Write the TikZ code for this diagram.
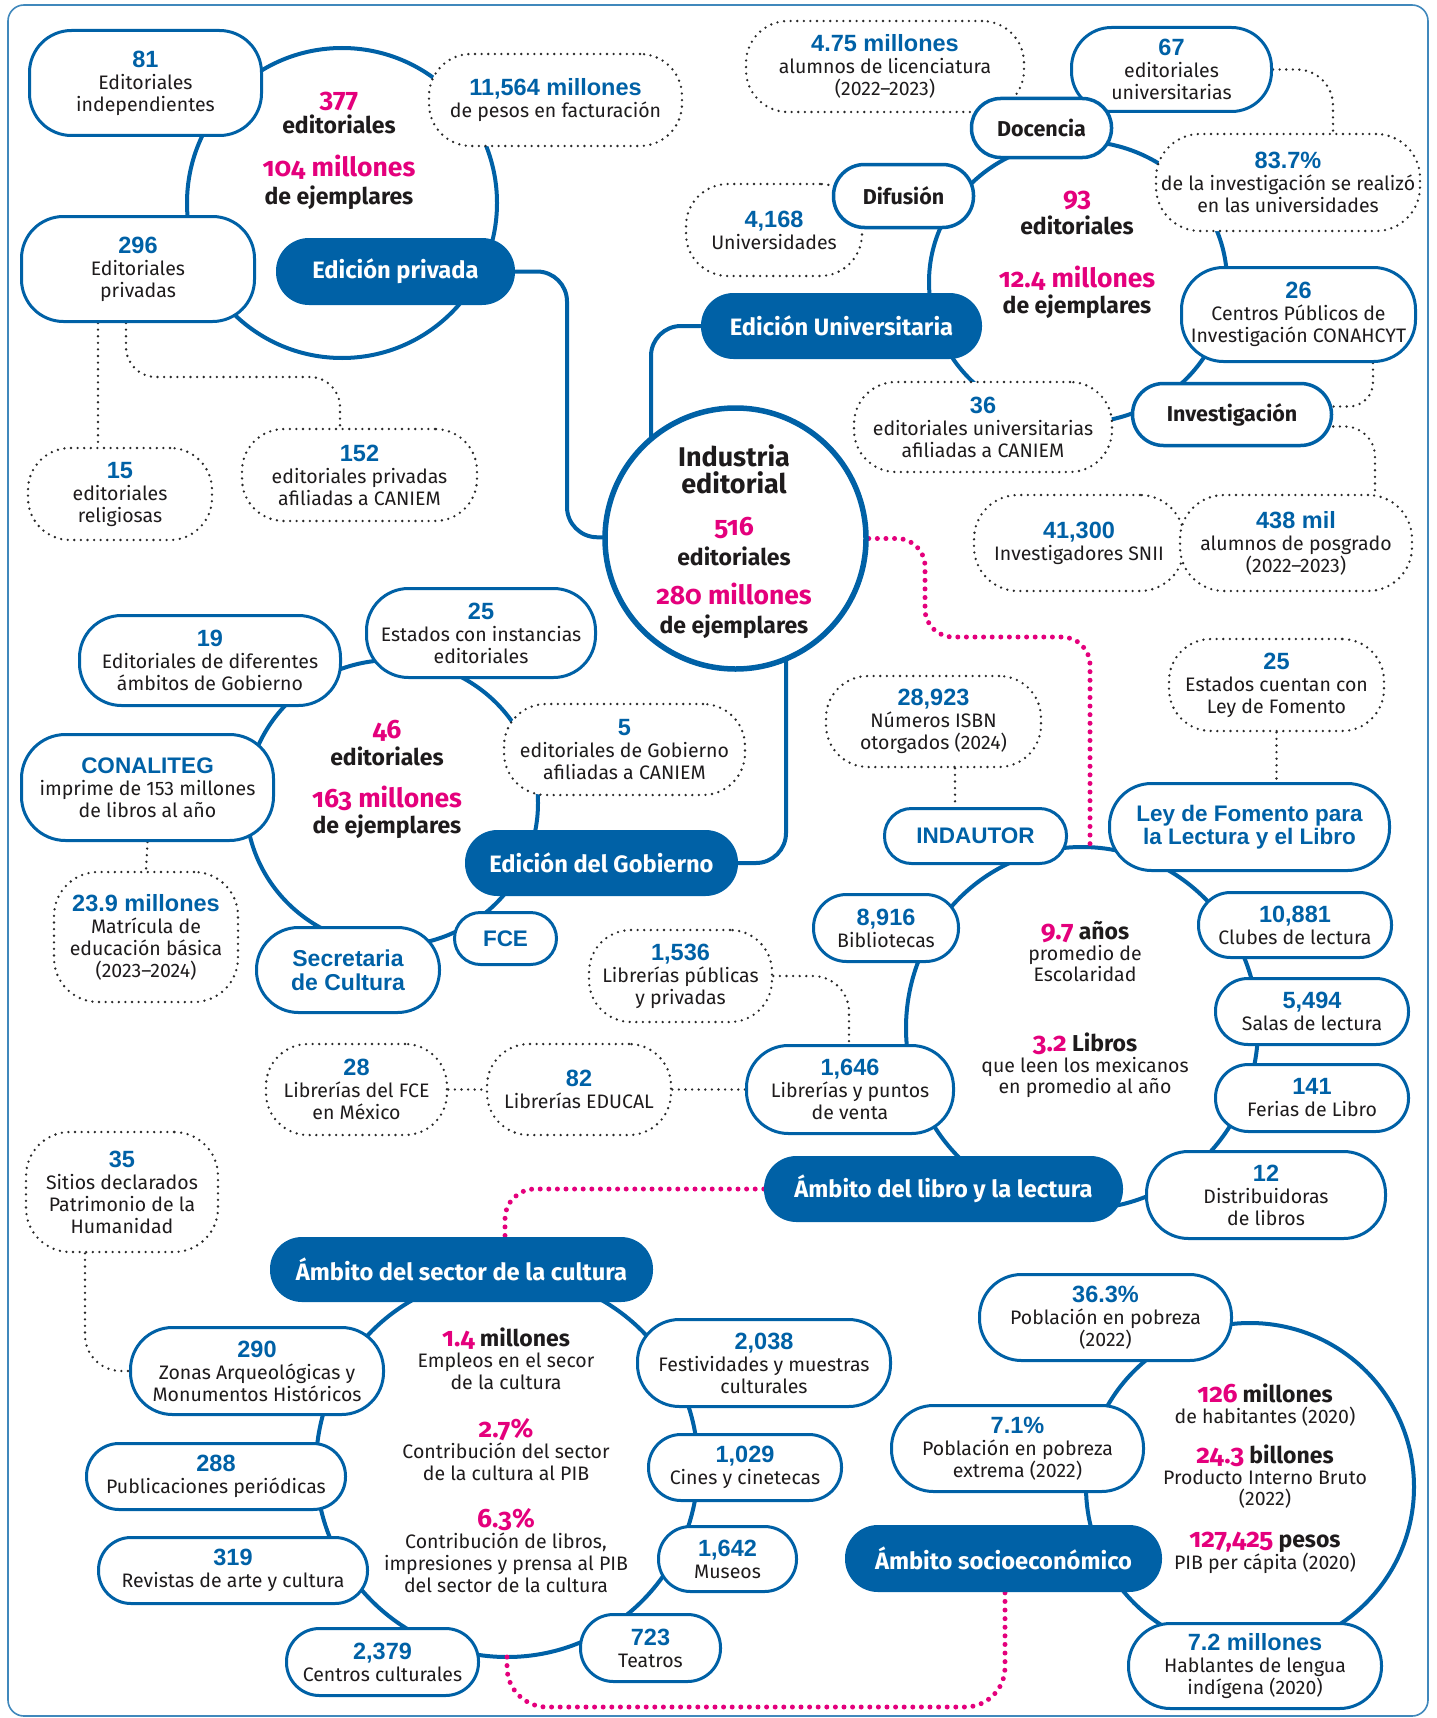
\documentclass[tikz,border=0pt]{standalone}
\usepackage{fontspec}
\setmainfont{Fira Sans}
\newfontfamily\myold{Fira Sans}[Numbers=OldStyle]
\newfontfamily\mylib{Liberation Sans}
\usetikzlibrary{calc}
\definecolor{mblue}{RGB}{0,97,166}
\definecolor{mpink}{RGB}{228,0,124}
\definecolor{tdark}{RGB}{30,27,28}
\definecolor{dgray}{RGB}{40,40,40}
\pgfdeclarelayer{bg}
\pgfsetlayers{bg,main}
\newcommand\mybodyf{\fontsize{19.5}{22}\selectfont}
\newcommand\mynum[1]{{\mylib\bfseries\fontsize{23.5}{22}\selectfont\color{mblue}#1}}
\newcommand\mypk[1]{{\myold\bfseries\fontsize{26.5}{26}\selectfont\color{mpink}#1}}
\newcommand\mybk[1]{{\bfseries\fontsize{23}{25}\selectfont\color{tdark}#1}}
\newcommand\mylb[1]{{\mylib\bfseries\fontsize{22.5}{23.5}\selectfont\color{mblue}#1}}
\tikzset{
  sb/.style={draw=mblue, line width=3pt, fill=white, align=center, inner sep=0pt, font=\mybodyf, text=tdark},
  db/.style={draw=dgray, line width=2.6pt, dash pattern=on 0pt off 6.6pt, line cap=round, fill=white, align=center, inner sep=0pt, font=\mybodyf, text=tdark},
  pill/.style={fill=mblue, draw=none, text=white, font=\bfseries\fontsize{23.7}{25}\selectfont, inner sep=0pt, align=center},
  wh/.style 2 args={minimum width=#1, minimum height=#2},
  rc/.style={rounded corners=#1},
  ring/.style={draw=mblue, line width=4pt},
  conn/.style={draw=mblue, line width=4pt, rounded corners=30pt},
  dotc/.style={draw=dgray, line width=2.6pt, dash pattern=on 0pt off 6.6pt, line cap=round},
  pinkdot/.style={draw=mpink, line width=5pt, dash pattern=on 0pt off 8.6pt, line cap=round},
  ct/.style={anchor=base, inner sep=0pt, font=\mybodyf, text=tdark},
  tb/.style={draw=mblue, line width=3.5pt, fill=white, inner sep=0pt, font=\bfseries\fontsize{21.5}{23}\selectfont, text=tdark},
  lb/.style={draw=mblue, line width=3pt, fill=white, inner sep=0pt, align=center, font=\mylib\bfseries\fontsize{22.5}{23.5}\selectfont, text=mblue},
}
\begin{document}
\begin{tikzpicture}[x=1pt,y=-1pt]
\useasboundingbox (0,0) rectangle (1436,1718);

% ---------- Edicion privada ----------
\node[sb, wh={232pt}{105pt}, rc=42pt] (b81) at (145.5,83) {\mynum{81}\\Editoriales\\independientes};
\node[sb, wh={233pt}{105pt}, rc=42pt] (b296) at (138,269) {\mynum{296}\\Editoriales\\privadas};
\node[pill, wh={239pt}{67pt}, rc=33pt] (pPriv) at (395.5,271.5) {Edición privada};
\node[db, wh={253pt}{92pt}, rc=42pt] (d11564) at (555.5,100) {\mynum{11,564 millones}\\de pesos en facturación};
\node[db, wh={184pt}{92pt}, rc=42pt] (d15) at (120,494) {\mynum{15}\\editoriales\\religiosas};
\node[db, wh={235pt}{92pt}, rc=42pt] (d152) at (359.5,475) {\mynum{152}\\editoriales privadas\\afiliadas a CANIEM};
\node[ct] (tP1) at (339,108) {\mypk{377}};
\node[ct] (tP2) at (339,133) {\mybk{editoriales}};
\node[ct] (tP3) at (339,176) {\mypk{104 millones}};
\node[ct] (tP4) at (339,204) {\mybk{de ejemplares}};

% ---------- Edicion universitaria ----------
\node[db, wh={278pt}{91pt}, rc=42pt] (d475) at (885,66.5) {\mynum{4.75 millones}\\alumnos de licenciatura\\(2022–2023)};
\node[sb, wh={200pt}{84pt}, rc=40pt] (b67) at (1171.5,69.5) {\mynum{67}\\editoriales\\universitarias};
\node[tb, wh={140pt}{59pt}, rc=29pt] (docencia) at (1041.5,128) {Docencia};
\node[db, wh={176pt}{92pt}, rc=42pt] (d4168) at (774,230) {\mynum{4,168}\\Universidades};
\node[tb, wh={140pt}{63pt}, rc=31pt] (difusion) at (903.5,196) {Difusión};
\node[db, wh={264pt}{97pt}, rc=44pt] (d837) at (1288,182.5) {\mynum{83.7\%}\\de la investigación se realizó\\en las universidades};
\node[sb, wh={234pt}{94pt}, rc=42pt] (b26) at (1298.5,314.5) {\mynum{26}\\Centros Públicos de\\Investigación CONAHCYT};
\node[tb, wh={199pt}{62pt}, rc=31pt] (investigacion) at (1232,414.5) {Investigación};
\node[pill, wh={281pt}{66pt}, rc=32.5pt] (pUni) at (841.5,326) {Edición Universitaria};
\node[db, wh={258pt}{90pt}, rc=42pt] (d36) at (983,427) {\mynum{36}\\editoriales universitarias\\afiliadas a CANIEM};
\node[db, wh={210pt}{96pt}, rc=44pt] (d41300) at (1079,543) {\mynum{41,300}\\Investigadores SNII};
\node[db, wh={232pt}{96pt}, rc=44pt] (d438) at (1296,543) {\mynum{438 mil}\\alumnos de posgrado\\(2022–2023)};
\node[ct] (tU1) at (1077,206) {\mypk{93}};
\node[ct] (tU2) at (1077,234) {\mybk{editoriales}};
\node[ct] (tU3) at (1077,287) {\mypk{12.4 millones}};
\node[ct] (tU4) at (1077,313) {\mybk{de ejemplares}};

% ---------- Industria editorial ----------
\node[circle, draw=mblue, line width=5.5pt, fill=white, minimum size=261pt, inner sep=0pt] (ind) at (735.5,538.5) {};
\node[ct, font=\bfseries\fontsize{27}{28}\selectfont] (tI1) at (734,466) {Industria};
\node[ct, font=\bfseries\fontsize{27}{28}\selectfont] (tI2) at (734,493) {editorial};
\node[ct] (tI3) at (734,535) {\mypk{516}};
\node[ct] (tI4) at (734,565) {\mybk{editoriales}};
\node[ct] (tI5) at (734,604) {\mypk{280 millones}};
\node[ct] (tI6) at (734,633) {\mybk{de ejemplares}};

% ---------- Edicion del Gobierno ----------
\node[sb, wh={261pt}{90pt}, rc=42pt] (b19) at (210,660.5) {\mynum{19}\\Editoriales de diferentes\\ámbitos de Gobierno};
\node[sb, wh={229pt}{89pt}, rc=42pt] (b25) at (481,633) {\mynum{25}\\Estados con instancias\\editoriales};
\node[db, wh={241pt}{91pt}, rc=42pt] (d5) at (624.5,749.5) {\mynum{5}\\editoriales de Gobierno\\afiliadas a CANIEM};
\node[sb, wh={252pt}{106pt}, rc=44pt] (conaliteg) at (147.5,787.5) {\mylb{CONALITEG}\\imprime de 153 millones\\de libros al año};
\node[db, wh={184pt}{130pt}, rc=44pt] (d239) at (146,937) {\mynum{23.9 millones}\\Matrícula de\\educación básica\\(2023–2024)};
\node[lb, wh={183pt}{85pt}, rc=42pt, font=\mylib\bfseries\fontsize{23}{24}\selectfont] (secretaria) at (348,970) {Secretaria\\de Cultura};
\node[lb, wh={102pt}{52pt}, rc=26pt] (fce) at (505.5,938.5) {FCE};
\node[pill, wh={273pt}{66pt}, rc=32.5pt] (pGob) at (601.5,863) {Edición del Gobierno};
\node[ct] (tG1) at (387,738) {\mypk{46}};
\node[ct] (tG2) at (387,765) {\mybk{editoriales}};
\node[ct] (tG3) at (387,807) {\mypk{163 millones}};
\node[ct] (tG4) at (387,833) {\mybk{de ejemplares}};

% ---------- Ambito del libro ----------
\node[db, wh={181pt}{91pt}, rc=42pt] (d28) at (356.5,1089.5) {\mynum{28}\\Librerías del FCE\\en México};
\node[db, wh={184pt}{91pt}, rc=42pt] (d82) at (579,1089.5) {\mynum{82}\\Librerías EDUCAL};
\node[db, wh={183pt}{92pt}, rc=42pt] (d1536) at (680.5,976) {\mynum{1,536}\\Librerías públicas\\y privadas};
\node[sb, wh={207pt}{88pt}, rc=42pt] (b1646) at (850,1089.5) {\mynum{1,646}\\Librerías y puntos\\de venta};
\node[sb, wh={145pt}{67pt}, rc=33pt] (b8916) at (886,928) {\mynum{8,916}\\Bibliotecas};
\node[lb, wh={182pt}{55pt}, rc=27pt] (indautor) at (975.5,836) {INDAUTOR};
\node[db, wh={215pt}{91pt}, rc=42pt] (d28923) at (933.5,721.5) {\mynum{28,923}\\Números ISBN\\otorgados (2024)};
\node[db, wh={215pt}{92pt}, rc=42pt] (d25b) at (1276.5,685) {\mynum{25}\\Estados cuentan con\\Ley de Fomento};
\node[lb, wh={280pt}{87pt}, rc=42pt] (ley) at (1249.5,827) {Ley de Fomento para\\la Lectura y el Libro};
\node[sb, wh={193pt}{65pt}, rc=32pt] (b10881) at (1295,925) {\mynum{10,881}\\Clubes de lectura};
\node[sb, wh={193pt}{66pt}, rc=32.5pt] (b5494) at (1312,1011.5) {\mynum{5,494}\\Salas de lectura};
\node[sb, wh={193pt}{67pt}, rc=33pt] (b141) at (1312,1098) {\mynum{141}\\Ferias de Libro};
\node[sb, wh={239pt}{87pt}, rc=42pt] (b12) at (1266,1195) {\mynum{12}\\Distribuidoras\\de libros};
\node[pill, wh={359pt}{66pt}, rc=32.5pt] (pLibro) at (943.5,1189) {Ámbito del libro y la lectura};
\node[ct] (tL1) at (1085,939) {\mypk{9.7} \mybk{años}};
\node[ct] (tL2) at (1085,960) {promedio de};
\node[ct] (tL3) at (1085,981) {Escolaridad};
\node[ct] (tL4) at (1085,1051) {\mypk{3.2} \mybk{Libros}};
\node[ct] (tL5) at (1085,1072) {que leen los mexicanos};
\node[ct] (tL6) at (1085,1093) {en promedio al año};

% ---------- Ambito del sector de la cultura ----------
\node[db, wh={192pt}{120pt}, rc=44pt] (d35) at (122,1192) {\mynum{35}\\Sitios declarados\\Patrimonio de la\\Humanidad};
\node[pill, wh={383pt}{65pt}, rc=32pt] (pCult) at (461.5,1269.5) {Ámbito del sector de la cultura};
\node[sb, wh={253pt}{87pt}, rc=42pt] (b290) at (257,1371) {\mynum{290}\\Zonas Arqueológicas y\\Monumentos Históricos};
\node[sb, wh={259pt}{66pt}, rc=32.5pt] (b288) at (216,1476.5) {\mynum{288}\\Publicaciones periódicas};
\node[sb, wh={269pt}{66pt}, rc=32.5pt] (b319) at (233,1570.5) {\mynum{319}\\Revistas de arte y cultura};
\node[sb, wh={192pt}{67pt}, rc=33pt] (b2379) at (382.5,1662) {\mynum{2,379}\\Centros culturales};
\node[sb, wh={140pt}{67pt}, rc=33pt] (b723) at (650.5,1648) {\mynum{723}\\Teatros};
\node[sb, wh={138pt}{65pt}, rc=32pt] (b1642) at (727.5,1559) {\mynum{1,642}\\Museos};
\node[sb, wh={193pt}{66pt}, rc=32.5pt] (b1029) at (745,1467.5) {\mynum{1,029}\\Cines y cinetecas};
\node[sb, wh={253pt}{87pt}, rc=42pt] (b2038) at (764,1363) {\mynum{2,038}\\Festividades y muestras\\culturales};
\node[ct] (tC1) at (506,1346) {\mypk{1.4} \mybk{millones}};
\node[ct] (tC2) at (506,1367) {Empleos en el secor};
\node[ct] (tC3) at (506,1389) {de la cultura};
\node[ct] (tC4) at (506,1437) {\mypk{2.7\%}};
\node[ct] (tC5) at (506,1458) {Contribución del sector};
\node[ct] (tC6) at (506,1480) {de la cultura al PIB};
\node[ct] (tC7) at (506,1527) {\mypk{6.3\%}};
\node[ct] (tC8) at (506,1548) {Contribución de libros,};
\node[ct] (tC9) at (506,1570) {impresiones y prensa al PIB};
\node[ct] (tC10) at (506,1592) {del sector de la cultura};

% ---------- Ambito socioeconomico ----------
\node[sb, wh={252pt}{86pt}, rc=42pt] (b363) at (1105.5,1317.5) {\mynum{36.3\%}\\Población en pobreza\\(2022)};
\node[sb, wh={252pt}{86pt}, rc=42pt] (b71) at (1017.5,1448.5) {\mynum{7.1\%}\\Población en pobreza\\extrema (2022)};
\node[pill, wh={317pt}{67pt}, rc=33pt] (pSocio) at (1003.5,1558.5) {Ámbito socioeconómico};
\node[sb, wh={253pt}{85pt}, rc=42pt] (b72) at (1255,1666) {\mynum{7.2 millones}\\Hablantes de lengua\\indígena (2020)};
\node[ct] (tS1) at (1265,1402) {\mypk{126} \mybk{millones}};
\node[ct] (tS2) at (1265,1423) {de habitantes (2020)};
\node[ct] (tS3) at (1265,1463) {\mypk{24.3} \mybk{billones}};
\node[ct] (tS4) at (1265,1484) {Producto Interno Bruto};
\node[ct] (tS5) at (1265,1505) {(2022)};
\node[ct] (tS6) at (1265,1547) {\mypk{127,425} \mybk{pesos}};
\node[ct] (tS7) at (1265,1569) {PIB per cápita (2020)};

% ---------- background: frame, rings, connectors ----------
\begin{pgfonlayer}{bg}
\draw[draw=mblue!75, line width=1.6pt, rounded corners=16pt] (8,5) rectangle (1428,1716);
\coordinate (rP) at (342,203);
\draw[ring] (rP) circle[radius=155pt];
\coordinate (rU) at (1078,282);
\draw[ring] (rU) ellipse[x radius=149pt, y radius=141pt];
\coordinate (rG) at (392,803);
\draw[ring] (rG) ellipse[x radius=146pt, y radius=143pt];
\coordinate (rL) at (1082,1028);
\draw[ring] (rL) ellipse[x radius=176pt, y radius=181pt];
\coordinate (rC) at (507,1466);
\draw[ring] (rC) circle[radius=191pt];
\coordinate (rS) at (1250,1487);
\draw[ring] (rS) circle[radius=164pt];

% main connectors to Industria editorial
\coordinate (k1) at (567,537);
\draw[conn] (pPriv.east) -| (k1) -- (ind.center);
\coordinate (k2) at (651,480);
\draw[conn] (pUni.west) -| (k2);
\coordinate (k3) at (786,600);
\draw[conn] (pGob.east) -| (k3);

% pink dotted links
\coordinate (pk1) at (1090,848);
\draw[pinkdot, rounded corners=28pt] (ind.east) -| (925,637) -| (pk1);
\coordinate (pk2) at (505,1237);
\draw[pinkdot, rounded corners=30pt] (pLibro.west) -| (pk2);
\coordinate (pk3) at (507,1657);
\coordinate (pk4) at (1005,1592);
\draw[pinkdot, rounded corners=40pt] (pk3) |- (750,1707) -| (pk4);

% grey dotted links
\coordinate (x98) at (98,0);
\coordinate (x126) at (126,0);
\coordinate (x340) at (340,0);
\coordinate (k5) at (340,377);
\coordinate (x849) at (849,0);
\coordinate (x955) at (955,0);
\coordinate (x1333) at (1333,0);
\coordinate (x1373) at (1373,0);
\coordinate (x1375) at (1375,0);
\coordinate (x85) at (85,0);
\draw[dotc] (b296.south -| x98) -- (d15.north -| x98);
\draw[dotc, rounded corners=30pt] (b296.south -| x126) |- (k5) -- (d152.north -| x340);
\draw[dotc] (d28) -- (d82);
\draw[dotc] (d82) -- (b1646);
\draw[dotc, rounded corners=36pt] (d1536.east) -| (b1646.north -| x849);
\draw[dotc] (conaliteg.south) -- (d239.north);
\draw[dotc] (d28923.south -| x955) -- (indautor.north -| x955);
\draw[dotc] (d25b.south) -- (d25b.south |- ley.north);
\draw[dotc, rounded corners=36pt] (b67.east) -| (d837.north -| x1333);
\draw[dotc, rounded corners=24pt] (b26.south -| x1373) |- ($(investigacion.east)+(0,-8)$);
\draw[dotc, rounded corners=30pt] ($(investigacion.east)+(0,12)$) -| (d438.north -| x1375);
\draw[dotc, rounded corners=36pt] (d35.south -| x85) |- (b290.west);
\end{pgfonlayer}
\end{tikzpicture}
\end{document}
